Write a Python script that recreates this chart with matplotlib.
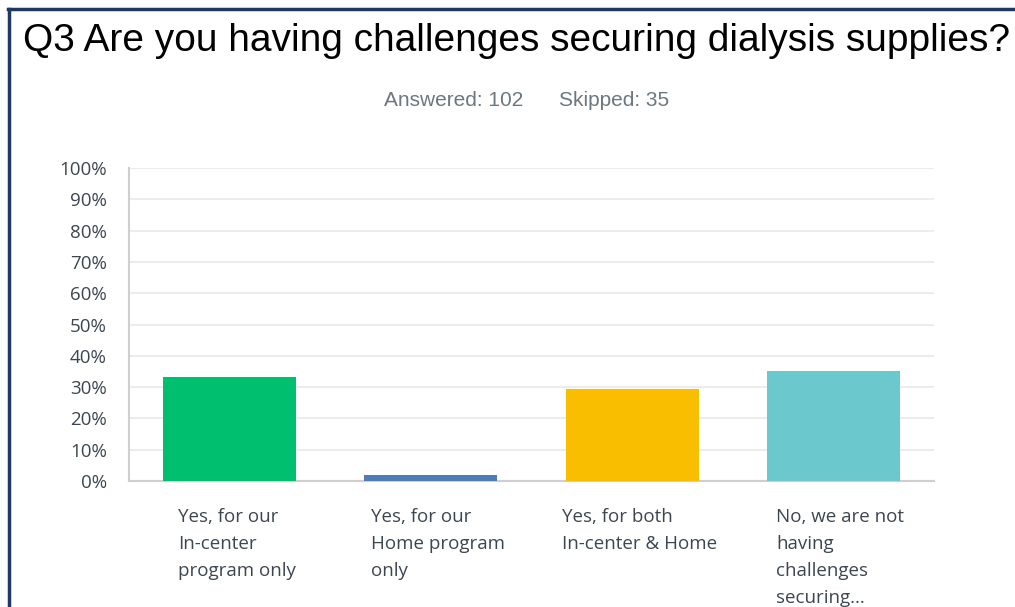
import numpy as np
import matplotlib.pyplot as plt
from matplotlib.lines import Line2D
from matplotlib.transforms import blended_transform_factory, offset_copy

categories = ["Yes, for our\nIn-center\nprogram only",
              "Yes, for our\nHome program\nonly",
              "Yes, for both\nIn-center & Home",
              "No, we are not\nhaving\nchallenges\nsecuring..."]
values = [33.33, 1.96, 29.41, 35.29]
colors = ["#00bf6f", "#507cb6", "#f9be00", "#6bc8cd"]
yticks = np.arange(0, 101, 10)
ytick_labels = [f"{v}%" for v in yticks]

W, H = 1015, 607
fig = plt.figure(figsize=(W / 100, H / 100), dpi=100)
fig.patch.set_facecolor("white")

# navy frame on top and left
navy = "#203864"
fig.add_artist(Line2D([8 / W, 1], [1 - 9 / H, 1 - 9 / H], color=navy, lw=2.5,
                      transform=fig.transFigure))
fig.add_artist(Line2D([8.5 / W, 8.5 / W], [0, 1 - 9 / H], color=navy, lw=2.5,
                      transform=fig.transFigure))

fig.text(23 / W, 1 - 51 / H, "Q3 Are you having challenges securing dialysis supplies?",
         fontsize=28, family="Liberation Sans", color="black", va="baseline", ha="left")
fig.text(384 / W, 1 - 106 / H, "Answered: 102", fontsize=15, family="Liberation Sans",
         color="#6d7780", va="baseline", ha="left")
fig.text(559 / W, 1 - 106 / H, "Skipped: 35", fontsize=15, family="Liberation Sans",
         color="#6d7780", va="baseline", ha="left")

ax = fig.add_axes([129 / W, 1 - 481 / H, 805 / W, 313 / H])
x = np.arange(len(values))
ax.bar(x, values, width=0.66, color=colors, zorder=3)
ax.set_xlim(-0.5, len(values) - 0.5)
ax.set_ylim(0, 100)
ax.set_yticks(yticks)
ax.set_yticklabels(ytick_labels)
ax.yaxis.grid(True, color="#ececec", lw=1.5, zorder=0)
ax.tick_params(axis="y", length=0, pad=16, labelsize=13.5, labelcolor="#3d4650")
for lab in ax.get_yticklabels():
    lab.set_family("Open Sans")
ax.set_xticks([])
for s in ["top", "right"]:
    ax.spines[s].set_visible(False)
for s in ["left", "bottom"]:
    ax.spines[s].set_color("#cfcfcf")
    ax.spines[s].set_linewidth(1.5)

trans = blended_transform_factory(ax.transData, ax.transAxes)
trans = offset_copy(trans, fig=fig, x=7, y=-27, units="dots")
for xi, lab in zip(x, categories):
    ax.text(xi, 0, lab, transform=trans, ha="center", va="top",
            multialignment="left", fontsize=13.5, family="Open Sans",
            color="#3d4650", linespacing=1.65)

fig.savefig("out.png", dpi=100)
